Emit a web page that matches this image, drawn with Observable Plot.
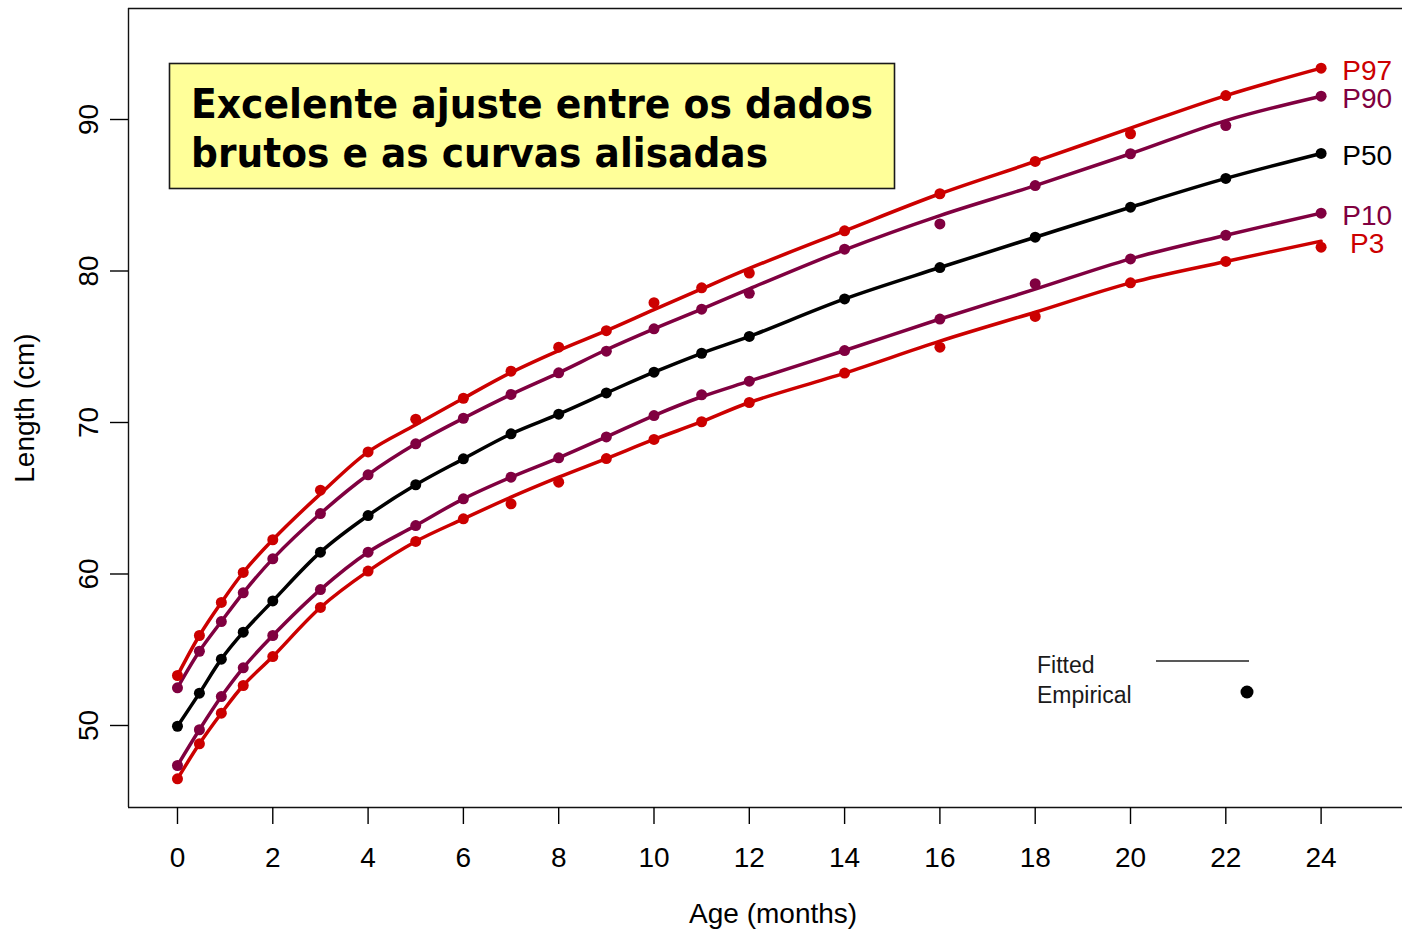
<!DOCTYPE html>
<html><head><meta charset="utf-8">
<script src="https://cdn.jsdelivr.net/npm/d3@7"></script>
<script src="https://cdn.jsdelivr.net/npm/@observablehq/plot@0.6"></script>
<style>
html,body{margin:0;padding:0;background:#fff;overflow:hidden;}
#wrap{position:relative;width:1402px;height:930px;}
#wrap svg.overlay{position:absolute;left:0;top:0;pointer-events:none;}
</style></head><body><div id="wrap"></div>
<script>
// Ages in months (first points are 2, 4 and 6 weeks)
const ages = [0, 0.46, 0.92, 1.38, 2, 3, 4, 5, 6, 7, 8, 9, 10, 11, 12, 14, 16, 18, 20, 22, 24];

const series = ["P97", "P90", "P50", "P10", "P3"];
const seriesColors = ["#CC0000", "#800040", "#000000", "#800040", "#CC0000"];

// Fitted (smoothed) centile curves, cm
const p97Fitted = [53.30, 55.94, 58.12, 60.10, 62.26, 65.29, 68.06, 69.85, 71.60, 73.30, 74.75, 76.06, 77.45, 78.82, 80.17, 82.65, 85.10, 87.23, 89.43, 91.58, 93.39];
const p90Fitted = [52.49, 54.90, 56.86, 58.76, 61.00, 63.99, 66.55, 68.59, 70.28, 71.85, 73.28, 74.80, 76.18, 77.48, 78.82, 81.40, 83.66, 85.64, 87.74, 89.93, 91.54];
const p50Fitted = [49.95, 52.13, 54.38, 56.16, 58.22, 61.44, 63.86, 65.89, 67.60, 69.25, 70.55, 71.95, 73.32, 74.57, 75.68, 78.16, 80.23, 82.23, 84.21, 86.11, 87.76];
const p10Fitted = [47.36, 49.72, 51.91, 53.81, 55.94, 58.97, 61.44, 63.20, 64.96, 66.39, 67.67, 69.05, 70.46, 71.70, 72.73, 74.75, 76.83, 78.80, 80.80, 82.36, 83.82];
const p3Fitted  = [46.48, 48.79, 50.81, 52.64, 54.55, 57.79, 60.19, 62.15, 63.64, 65.07, 66.39, 67.62, 68.88, 70.05, 71.32, 73.26, 75.37, 77.28, 79.22, 80.63, 81.97];

// Empirical (raw) centiles, cm
const p97Empirical = [53.30, 55.94, 58.12, 60.10, 62.26, 65.53, 68.06, 70.22, 71.60, 73.39, 74.97, 76.06, 77.91, 78.89, 79.86, 82.65, 85.10, 87.23, 89.06, 91.58, 93.39];
const p90Empirical = [52.49, 54.90, 56.86, 58.76, 61.00, 63.99, 66.55, 68.59, 70.28, 71.85, 73.28, 74.71, 76.18, 77.48, 78.53, 81.44, 83.11, 85.64, 87.74, 89.60, 91.54];
const p50Empirical = [49.95, 52.13, 54.38, 56.16, 58.22, 61.44, 63.86, 65.89, 67.60, 69.25, 70.55, 71.95, 73.32, 74.57, 75.68, 78.16, 80.23, 82.23, 84.21, 86.11, 87.76];
const p10Empirical = [47.36, 49.72, 51.91, 53.81, 55.94, 58.97, 61.44, 63.20, 64.96, 66.39, 67.67, 69.05, 70.46, 71.83, 72.73, 74.75, 76.83, 79.16, 80.80, 82.36, 83.82];
const p3Empirical  = [46.48, 48.79, 50.81, 52.64, 54.55, 57.79, 60.19, 62.15, 63.64, 64.63, 66.06, 67.62, 68.88, 70.05, 71.32, 73.26, 74.97, 77.00, 79.22, 80.63, 81.57];

const xTicks = [0, 2, 4, 6, 8, 10, 12, 14, 16, 18, 20, 22, 24];
const yTicks = [50, 60, 70, 80, 90];
const xLabel = "Age (months)";
const yLabel = "Length (cm)";
const noteLines = ["Excelente ajuste entre os dados", "brutos e as curvas alisadas"];
const legendLabels = ["Fitted", "Empirical"];

// --- build tidy tables ---
const fittedBySeries = {P97: p97Fitted, P90: p90Fitted, P50: p50Fitted, P10: p10Fitted, P3: p3Fitted};
const empiricalBySeries = {P97: p97Empirical, P90: p90Empirical, P50: p50Empirical, P10: p10Empirical, P3: p3Empirical};
const lineData = series.flatMap(s => ages.map((a, i) => ({series: s, age: a, value: fittedBySeries[s][i]})));
const dotData = series.flatMap(s => ages.map((a, i) => ({series: s, age: a, value: empiricalBySeries[s][i]})));
const labelData = series.map(s => ({series: s, age: ages[ages.length - 1], value: fittedBySeries[s][ages.length - 1]}));

const xDomain = [-1.028, 25.708];
const yDomain = [44.587, 97.327];
const axisFont = "'Liberation Sans', Arial, Helvetica, sans-serif";

const chart = Plot.plot({
  width: 1402, height: 930,
  marginLeft: 128, marginRight: 0, marginTop: 8, marginBottom: 123,
  style: {fontFamily: axisFont, background: "transparent", color: "#000", overflow: "visible"},
  x: {domain: xDomain},
  y: {domain: yDomain},
  color: {domain: series, range: seriesColors},
  marks: [
    Plot.ruleY([yDomain[0]], {stroke: "#111", strokeWidth: 1.4}),
    Plot.ruleY([yDomain[1]], {stroke: "#111", strokeWidth: 1.4}),
    Plot.ruleX([xDomain[0]], {stroke: "#111", strokeWidth: 1.4}),
    Plot.axisX({ticks: xTicks, tickSize: 17, tickPadding: 23, fontSize: 28, label: null, strokeWidth: 1.4}),
    Plot.axisY({ticks: yTicks, tickSize: 18, tickFormat: () => "", label: null, strokeWidth: 1.4}),
    Plot.text(yTicks, {y: d => d, text: d => String(d), frameAnchor: "left", rotate: -90,
      textAnchor: "middle", lineAnchor: "bottom", dx: -31, fontSize: 28, fill: "#000"}),
    Plot.text([xLabel], {x: () => 12.5, text: d => d, frameAnchor: "bottom", lineAnchor: "bottom",
      dy: 115, fontSize: 28, fill: "#000"}),
    Plot.text([yLabel], {text: d => d, frameAnchor: "left", rotate: -90, textAnchor: "middle",
      lineAnchor: "bottom", dx: -95, fontSize: 28, fill: "#000"}),
    Plot.line(lineData, {x: "age", y: "value", z: "series", stroke: "series", strokeWidth: 3.5, curve: "catmull-rom"}),
    Plot.dot(dotData, {x: "age", y: "value", fill: "series", r: 5.5}),
    Plot.text(labelData, {x: "age", y: "value", text: "series", fill: "series", dx: 46, dy: 3,
      fontSize: 28, textAnchor: "middle"})
  ]
});
document.getElementById("wrap").appendChild(chart);

// --- annotation box and legend overlay ---
const overlay = d3.select("#wrap").append("svg").attr("class", "overlay")
  .attr("width", 1402).attr("height", 930);
const note = overlay.append("g");
note.append("rect").attr("x", 169.5).attr("y", 63.5).attr("width", 725).attr("height", 125)
  .attr("fill", "#FFFF99").attr("stroke", "#1a1a1a").attr("stroke-width", 1.6);
const noteLengths = [682, 577];
const noteBaselines = [118, 167];
noteLines.forEach((t, i) => {
  note.append("text").attr("x", 191).attr("y", noteBaselines[i])
    .attr("font-family", "'DejaVu Sans', Verdana, sans-serif").attr("font-weight", "bold")
    .attr("font-size", 41).attr("textLength", noteLengths[i]).attr("lengthAdjust", "spacingAndGlyphs")
    .attr("fill", "#000").text(t);
});
const legend = overlay.append("g").attr("font-family", axisFont).attr("font-size", 23).attr("fill", "#1a1a1a");
legend.append("text").attr("x", 1037).attr("y", 673).text(legendLabels[0]);
legend.append("text").attr("x", 1037).attr("y", 703).text(legendLabels[1]);
legend.append("line").attr("x1", 1156).attr("x2", 1249).attr("y1", 661).attr("y2", 661)
  .attr("stroke", "#222").attr("stroke-width", 1.5);
legend.append("circle").attr("cx", 1247).attr("cy", 692).attr("r", 6.5).attr("fill", "#000");
</script></body></html>
